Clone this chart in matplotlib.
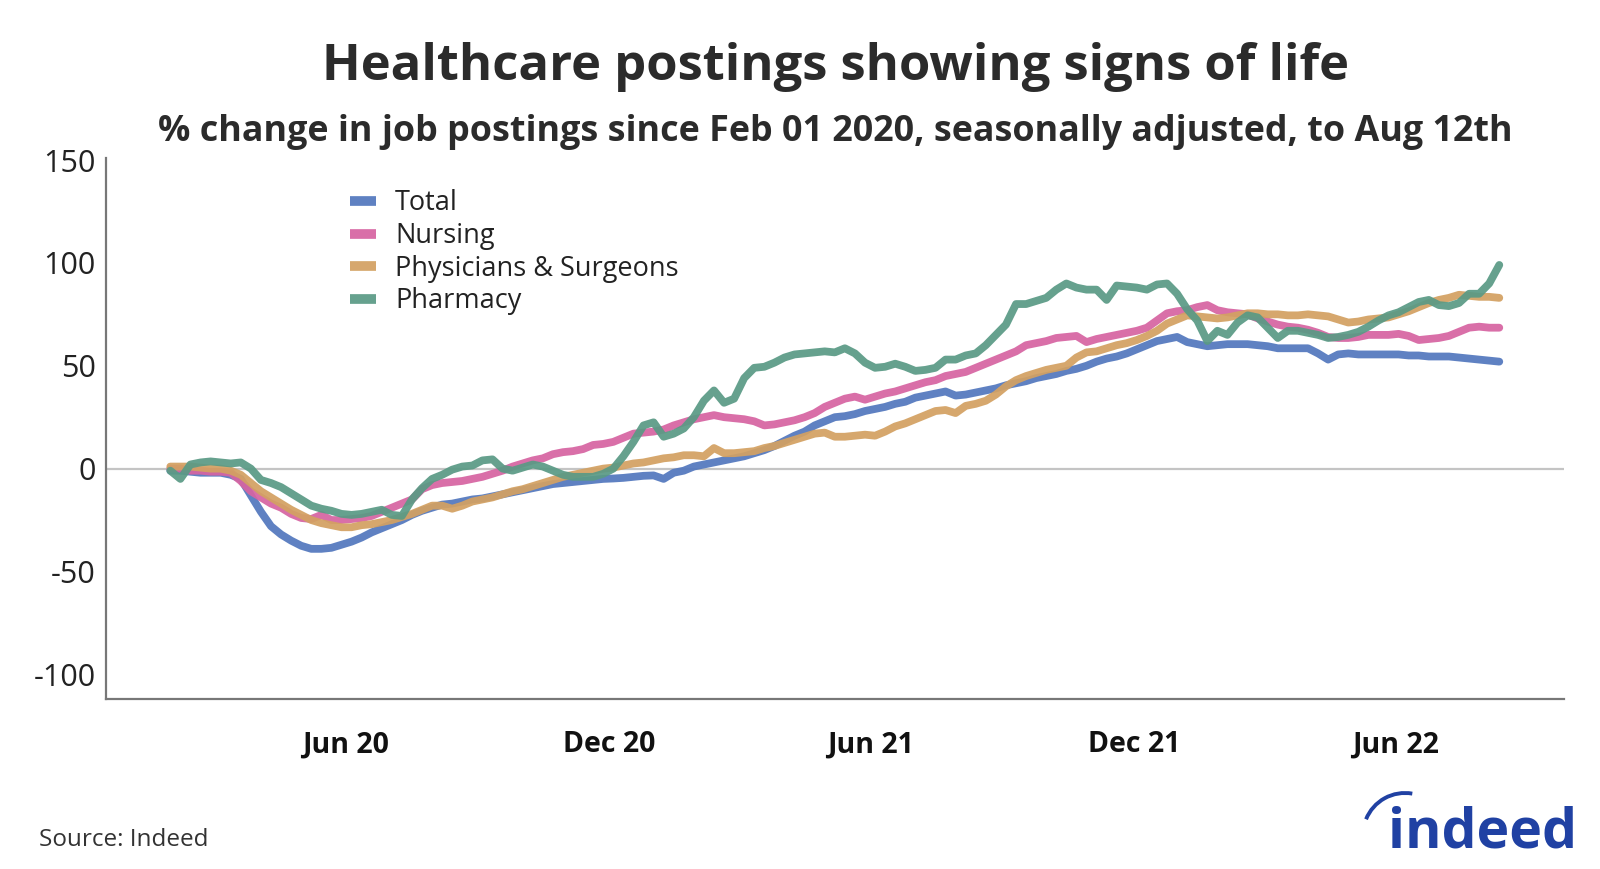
import numpy as np
import pandas as pd
import matplotlib
matplotlib.use('Agg')
import matplotlib.pyplot as plt
from matplotlib.patches import Arc

plt.rcParams['font.family'] = ['Open Sans', 'DejaVu Sans']

# -------------------------
# Data (weekly, % change since Feb 01 2020)
# -------------------------
dates = pd.date_range(end='2022-08-12', periods=133, freq='7D')

total = [
    -1, -1, -1.5, -2, -2, -2, -3, -5, -13, -21,
    -28, -32, -35, -37.5, -39, -39, -38.5, -37, -35.5, -33.5,
    -31, -29, -27, -25, -22.5, -20.5, -19, -17.5, -17, -16,
    -15, -14.5, -13.5, -12.5, -11.5, -10.5, -9.5, -8.5, -7.5, -7,
    -6.5, -6, -5.5, -5, -4.8, -4.5, -4, -3.5, -3.3, -5,
    -2, -1, 1, 2, 3, 4, 5, 6, 7.5, 9,
    11, 13.5, 16, 18, 21, 23, 25, 25.5, 26.5, 28,
    29, 30, 31.5, 32.5, 34.5, 35.5, 36.5, 37.5, 35.5, 36,
    37, 38, 39, 40.5, 41.5, 42.5, 44, 45, 46, 47.5,
    48.5, 50, 52, 53.5, 54.5, 56, 58, 60, 62, 63,
    64, 61.5, 60.5, 59.5, 60, 60.5, 60.5, 60.5, 60, 59.5,
    58.5, 58.5, 58.5, 58.5, 56, 53, 55.5, 56, 55.5, 55.5,
    55.5, 55.5, 55.5, 55, 55, 54.5, 54.5, 54.5, 54, 53.5,
    53, 52.5, 52]

nursing = [
    0, 0, -1, -1, -1.5, -1.5, -2, -6, -11, -14,
    -17, -19, -22, -24, -24.5, -22.5, -25, -25, -24.5, -24,
    -23, -21, -19, -17, -15, -10, -8, -7, -6.5, -6,
    -5, -4, -2.5, -1, 1, 2.5, 4, 5, 7, 8,
    8.5, 9.5, 11.5, 12, 13, 15, 17, 17.5, 18, 19,
    21, 22.5, 24, 25, 26, 25, 24.5, 24, 23, 21,
    21.5, 22.5, 23.5, 25, 27, 30, 32, 34, 35, 33.5,
    35, 36.5, 37.5, 39, 40.5, 42, 43, 45, 46, 47,
    49, 51, 53, 55, 57, 60, 61, 62, 63.5, 64,
    64.5, 61.5, 63, 64, 65, 66, 67, 68.5, 72, 75.5,
    76.5, 77, 78.5, 79.5, 77, 76, 75.5, 75, 73, 71.5,
    70, 69, 68.5, 67.5, 66, 64, 63.5, 63.5, 64, 65,
    65, 65, 65.5, 64.5, 62.5, 63, 63.5, 64.5, 66.5, 68.5,
    69, 68.5, 68.5]

physicians = [
    1, 1, 1, 0.5, 0, 0, -1, -3, -7, -11,
    -14, -17, -20, -22.5, -25, -26.5, -27.5, -28.5, -28.5, -27.5,
    -27, -26, -25, -23.5, -22, -20, -18, -18, -19.5, -18,
    -16, -15, -14, -12.5, -11, -10, -8.5, -7, -5.5, -4,
    -3, -2, -1, 0, 0.5, 1.5, 2.5, 3, 4, 5,
    5.5, 6.5, 6.5, 6, 10, 7.5, 7.5, 8, 8.5, 10,
    11, 12.5, 14, 15.5, 17, 17.5, 15.5, 15.5, 16, 16.5,
    16, 18, 20.5, 22, 24, 26, 28, 28.5, 27, 30.5,
    31.5, 33, 36, 40, 43, 45, 46.5, 48, 49, 50,
    54, 56.5, 57, 58.5, 60, 61, 62.5, 64.5, 67, 70.5,
    72.5, 74.5, 74, 73.5, 73, 73.5, 74.5, 75.5, 75.5, 75,
    75, 74.5, 74.5, 75, 74.5, 74, 72.5, 71, 71.5, 72.5,
    73, 73.5, 75, 76.5, 78.5, 80.5, 82, 83, 84.5, 84,
    83.5, 83.5, 83]

pharmacy = [
    -1, -5, 2, 3, 3.5, 3, 2.5, 3, 0, -5.5,
    -7, -9, -12, -15, -18, -19.5, -20.5, -22, -22.5, -22,
    -21, -20, -22.5, -23, -15, -9.5, -5, -3, -0.5, 1,
    1.5, 4, 4.5, 0, -1, 0.5, 2, 1, -1, -3,
    -4, -4, -4, -2.5, 0, 6, 13, 21, 22.5, 15.5,
    17, 19.5, 25, 33, 38, 32, 34, 44, 49, 49.5,
    51.5, 54, 55.5, 56, 56.5, 57, 56.5, 58.5, 56, 51.5,
    49, 49.5, 51, 49.5, 47.5, 48, 49, 53, 53, 55,
    56, 60, 65, 70, 80, 80, 81.5, 83, 87, 90,
    88, 87, 87, 82, 89, 88.5, 88, 87, 89.5, 90,
    85, 77.5, 72, 62, 67, 65, 71, 74.5, 73.5, 68.5,
    63.5, 67, 67, 66, 65, 63.5, 64, 65, 66.5, 69,
    72, 74.5, 76, 78.5, 81, 82, 79.5, 79, 80.5, 85,
    85, 90, 99]

series = [
    ('Total', total, '#5378be'),
    ('Nursing', nursing, '#d664a2'),
    ('Physicians & Surgeons', physicians, '#d3a162'),
    ('Pharmacy', pharmacy, '#5a9a85'),
]

tick_dates = pd.to_datetime(['2020-06-01', '2020-12-01', '2021-06-01',
                             '2021-12-01', '2022-06-01'])
tick_labels = ['Jun 20', 'Dec 20', 'Jun 21', 'Dec 21', 'Jun 22']
y_ticks = [150, 100, 50, 0, -50, -100]

# -------------------------
# Figure
# -------------------------
fig = plt.figure(figsize=(16, 8.69), dpi=100)
ax = fig.add_axes([0.066, 0.1956, 0.9115, 0.6226])

ax.axhline(0, color='#c4c4c4', lw=1.6, zorder=1)
for name, vals, col in series:
    ax.plot(dates, vals, color=col, lw=5.6, alpha=0.93, label=name,
            solid_capstyle='round', solid_joinstyle='round', zorder=2)

ax.set_xlim(pd.Timestamp('2019-12-17'), pd.Timestamp('2022-09-26'))
ax.set_ylim(-112, 151)
ax.set_yticks(y_ticks)
ax.set_yticklabels([str(v) for v in y_ticks], fontsize=22, color='#222222')
ax.set_xticks(tick_dates)
ax.set_xticklabels(tick_labels, fontsize=20.5, fontweight='bold', color='#111111')
ax.tick_params(axis='both', length=0)
ax.tick_params(axis='x', pad=22.5)
ax.tick_params(axis='y', pad=7)

for s in ['top', 'right']:
    ax.spines[s].set_visible(False)
for s in ['left', 'bottom']:
    ax.spines[s].set_color('#777777')
    ax.spines[s].set_linewidth(1.6)

leg = ax.legend(loc='upper left', bbox_to_anchor=(0.219, 0.782),
                bbox_transform=fig.transFigure, frameon=False,
                fontsize=19.5, handlelength=0.95, handletextpad=0.7,
                labelspacing=0.17, borderpad=0, borderaxespad=0)
for h in leg.get_lines():
    h.set_linewidth(7)
    h.set_solid_capstyle('butt')
for t in leg.get_texts():
    t.set_color('#222222')

fig.text(0.522, 1 - 67 / 869, 'Healthcare postings showing signs of life',
         ha='center', va='center', fontsize=36.5, fontweight='bold', color='#2b2b2b')
fig.text(0.522, 1 - 132 / 869,
         '% change in job postings since Feb 01 2020, seasonally adjusted, to Aug 12th',
         ha='center', va='center', fontsize=25.8, fontweight='bold', color='#2b2b2b')
fig.text(39 / 1600, 1 - 840 / 869, 'Source: Indeed', ha='left', va='center',
         fontsize=17.5, color='#333333')

# indeed logo
logo_blue = '#2041a3'
fig.text(1577 / 1600, 1 - 847 / 869, 'indeed', ha='right', va='baseline',
         fontsize=40, fontweight='bold', color=logo_blue)
fig.add_artist(Arc((14.05, 0.34), 0.84, 0.84, theta1=80, theta2=158,
                   transform=fig.dpi_scale_trans, color=logo_blue, lw=2.8))

fig.savefig('out.png', dpi=100)
